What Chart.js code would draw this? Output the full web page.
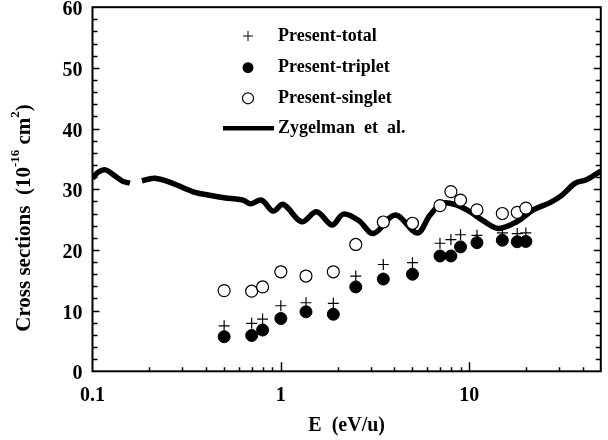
<!DOCTYPE html>
<html>
<head>
<meta charset="utf-8">
<script src="https://cdn.jsdelivr.net/npm/chart.js@4"></script>
<style>
  body { margin: 0; background: #fff; }
  #wrap { width: 608px; height: 440px; }
</style>
</head>
<body>
<div id="wrap"><canvas id="ChartCanvas1" width="608" height="440"></canvas></div>
<script>
// measured energies (eV/u) and cross sections (1e-16 cm^2)
const energies = [0.5, 0.7, 0.8, 1.0, 1.36, 1.9, 2.5, 3.5, 5, 7, 8, 9, 11, 15, 18, 20];
const totalCS = [7.5, 7.9, 8.6, 10.8, 11.3, 11.2, 15.7, 17.6, 17.9, 21.1, 21.7, 22.5, 22.4, 22.8, 22.7, 22.8];
const tripletCS = [5.7, 5.9, 6.8, 8.7, 9.8, 9.4, 13.9, 15.2, 16.0, 19.0, 19.0, 20.5, 21.2, 21.6, 21.35, 21.4];
const singletCS = [13.3, 13.2, 13.9, 16.4, 15.7, 16.4, 20.9, 24.6, 24.4, 27.3, 29.6, 28.2, 26.6, 26.0, 26.2, 26.9];

// Zygelman et al. curve (null = gap in the line)
const zygE = [0.1, 0.107, 0.117, 0.13, 0.145, 0.158, 0.17, 0.183, 0.2, 0.215, 0.25, 0.28, 0.35, 0.42, 0.5, 0.63, 0.69, 0.79, 0.91, 1.03, 1.29, 1.55, 1.87, 2.15, 2.6, 3.1, 4.05, 5.3, 6.2, 7.2, 8.6, 10.1, 11.9, 14.3, 17.9, 21.9, 26.9, 31, 36.6, 42.2, 50];
const zygCS = [31.8, 32.8, 33.2, 32.3, 31.3, 31.0, null, 31.4, 31.7, 31.8, 31.3, 30.7, 29.5, 29.0, 28.6, 28.2, 27.6, 28.2, 26.4, 27.5, 24.65, 26.3, 24.1, 25.9, 24.8, 22.7, 25.75, 22.8, 25.75, 27.7, 27.4, 26.3, 24.8, 23.55, 24.65, 26.6, 27.8, 29.0, 31.0, 31.6, 33.0];

const yTicks = [0, 10, 20, 30, 40, 50, 60];
const xTickLabels = { 0.1: '0.1', 1: '1', 10: '10' };

const serif = '"Liberation Serif", "Times New Roman", serif';

Initialize();

function Initialize()
{
    const ctx = document.getElementById('ChartCanvas1').getContext('2d');

    const toPts = (xs, ys) => xs.map((x, i) => ({ x: x, y: ys[i] }));

    // frame, inward ticks, y title and legend
    const decor = {
        id: 'decor',
        afterDraw(chart) {
            const c = chart.ctx;
            const a = chart.chartArea;
            const xs = chart.scales.x, ys = chart.scales.y;
            c.save();
            c.strokeStyle = '#000';
            c.lineWidth = 2;
            c.strokeRect(a.left, a.top, a.right - a.left, a.bottom - a.top);

            c.lineWidth = 1.5;
            c.beginPath();
            for (let v = 2; v < 60; v += 2) {
                const py = Math.round(ys.getPixelForValue(v)) + 0.5;
                const len = v % 10 === 0 ? 7 : 5;
                c.moveTo(a.left, py); c.lineTo(a.left + len, py);
                c.moveTo(a.right, py); c.lineTo(a.right - len, py);
            }
            for (let d = 0.1; d < 50; d *= 10) {
                for (let k = 1; k < 10; k++) {
                    const v = d * k;
                    if (v <= 0.1 || v >= 50) continue;
                    const px = Math.round(xs.getPixelForValue(v)) + 0.5;
                    const len = k === 1 ? 9 : 4;
                    c.moveTo(px, a.bottom); c.lineTo(px, a.bottom - len);
                }
            }
            c.stroke();

            // y axis title with superscripts
            const big = 'bold 21px ' + serif, small = 'bold 13px ' + serif;
            const parts = [
                ['Cross sections  (10', big, 0],
                ['-16', small, -9],
                [' cm', big, 0],
                ['2', small, -9],
                [')', big, 0]
            ];
            let total = 0;
            parts.forEach(p => { c.font = p[1]; total += c.measureText(p[0]).width; });
            c.translate(25, 218);
            c.rotate(-Math.PI / 2);
            c.fillStyle = '#000';
            c.textBaseline = 'middle';
            c.textAlign = 'left';
            let x0 = -total / 2;
            parts.forEach(p => {
                c.font = p[1];
                c.fillText(p[0], x0, p[2]);
                x0 += c.measureText(p[0]).width;
            });
            c.setTransform(1, 0, 0, 1, 0, 0);

            // legend
            c.font = 'bold 18px ' + serif;
            c.textBaseline = 'middle';
            c.textAlign = 'left';
            const lx = 248, tx = 278;
            const rows = [36, 67.7, 98.3, 128.3];
            c.lineWidth = 1;
            c.beginPath();
            c.moveTo(lx - 5, rows[0]); c.lineTo(lx + 5, rows[0]);
            c.moveTo(lx, rows[0] - 5); c.lineTo(lx, rows[0] + 5);
            c.stroke();
            c.fillText('Present-total', tx, rows[0]);
            c.beginPath();
            c.arc(lx, rows[1], 5.5, 0, Math.PI * 2);
            c.fill();
            c.fillText('Present-triplet', tx, rows[1]);
            c.lineWidth = 1.2;
            c.beginPath();
            c.arc(lx, rows[2], 5.5, 0, Math.PI * 2);
            c.stroke();
            c.fillText('Present-singlet', tx, rows[2]);
            c.lineWidth = 4.5;
            c.beginPath();
            c.moveTo(223, rows[3]); c.lineTo(274, rows[3]);
            c.stroke();
            c.fillText('Zygelman  et  al.', tx, rows[3]);
            c.restore();
        }
    };

    const chart = new Chart(ctx,
    {
        type: 'scatter',
        data: {
            datasets: [
                {
                    label: 'Present-total',
                    data: toPts(energies, totalCS),
                    pointStyle: 'cross',
                    pointRadius: 5.5,
                    borderColor: '#000',
                    borderWidth: 1.2,
                    order: 1
                },
                {
                    label: 'Present-triplet',
                    data: toPts(energies, tripletCS),
                    pointStyle: 'circle',
                    pointRadius: 6,
                    backgroundColor: '#000',
                    borderColor: '#000',
                    borderWidth: 1,
                    order: 2
                },
                {
                    label: 'Present-singlet',
                    data: toPts(energies, singletCS),
                    pointStyle: 'circle',
                    pointRadius: 6,
                    backgroundColor: '#fff',
                    borderColor: '#000',
                    borderWidth: 1.2,
                    order: 3
                },
                {
                    label: 'Zygelman et al.',
                    data: toPts(zygE, zygCS),
                    showLine: true,
                    spanGaps: false,
                    pointRadius: 0,
                    borderColor: '#000',
                    borderWidth: 5.5,
                    tension: 0.35,
                    order: 4
                }
            ]
        },
        options: {
            responsive: false,
            animation: false,
            devicePixelRatio: 1,
            layout: { padding: { left: 0, right: 6.7, top: 7, bottom: 0 } },
            plugins: {
                legend: { display: false },
                tooltip: { enabled: false }
            },
            scales: {
                x: {
                    type: 'logarithmic',
                    min: 0.1,
                    max: 50,
                    grid: { display: false, drawTicks: false },
                    border: { display: false },
                    ticks: {
                        autoSkip: false,
                        maxRotation: 0,
                        padding: 13,
                        color: '#000',
                        font: { family: serif, size: 20, weight: 'bold' },
                        callback: v => xTickLabels[v] || ''
                    },
                    title: {
                        display: true,
                        text: 'E  (eV/u)',
                        color: '#000',
                        font: { family: serif, size: 20, weight: 'bold' },
                        padding: { top: 0, bottom: 2 }
                    },
                    afterFit: s => { s.height = 68.7; s.paddingLeft = 0; s.paddingRight = 0; }
                },
                y: {
                    min: 0,
                    max: 60,
                    afterBuildTicks: s => { s.ticks = yTicks.map(v => ({ value: v })); },
                    grid: { display: false, drawTicks: false },
                    border: { display: false },
                    ticks: {
                        padding: 10,
                        labelOffset: 3,
                        color: '#000',
                        font: { family: serif, size: 20, weight: 'bold' }
                    },
                    afterFit: s => { s.width = 92.5; s.paddingTop = 0; s.paddingBottom = 0; }
                }
            }
        },
        plugins: [decor]
    });
}
</script>
</body>
</html>
